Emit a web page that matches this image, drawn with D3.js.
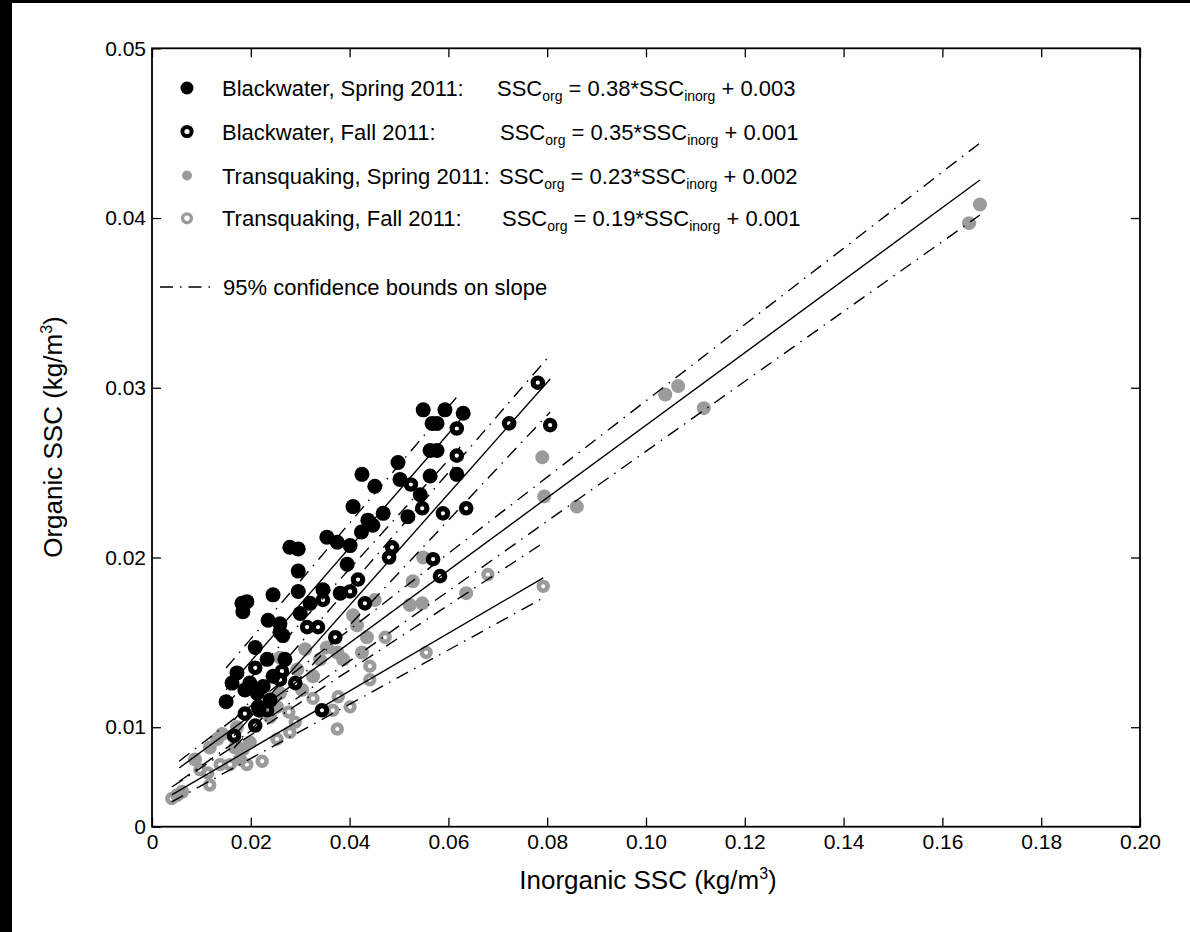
<!DOCTYPE html>
<html lang="en">
<head>
<meta charset="UTF-8">
<title>Organic vs inorganic SSC</title>
<script src="https://d3js.org/d3.v7.min.js"></script>
<style>
  html, body { margin: 0; padding: 0; background: #000; }
  svg { display: block; }
  text { font-family: "Liberation Sans", Arial, sans-serif; fill: #000; white-space: pre; }
  .fit { fill: none; stroke: #000; stroke-width: 1.4; }
  .bound { fill: none; stroke: #000; stroke-width: 1.4; stroke-dasharray: 13 7 1.5 7; }
</style>
</head>
<body>
<svg id="chart" width="1190" height="932"></svg>
<script>
// ---- data (kg/m3) ----
const seriesNames = ["Blackwater, Spring 2011:", "Blackwater, Fall 2011:", "Transquaking, Spring 2011:", "Transquaking, Fall 2011:"];
const eqSlopes = ["0.38", "0.35", "0.23", "0.19"];
const eqIntercepts = ["0.003", "0.001", "0.002", "0.001"];
const boundsLabel = "95% confidence bounds on slope";

const xTicks = [0, 0.02, 0.04, 0.06, 0.08, 0.10, 0.12, 0.14, 0.16, 0.18, 0.20];
const xTickLabels = ["0", "0.02", "0.04", "0.06", "0.08", "0.10", "0.12", "0.14", "0.16", "0.18", "0.20"];
const yBottom = 0.00414;
const yTicks = [yBottom, 0.01, 0.02, 0.03, 0.04, 0.05];
const yTickLabels = ["0", "0.01", "0.02", "0.03", "0.04", "0.05"];

// Blackwater, Spring 2011 (filled black)
const bwSpring = [
  [0.0549, 0.0287], [0.0593, 0.0287], [0.0630, 0.0285], [0.0567, 0.0279], [0.0577, 0.0279],
  [0.0563, 0.0263], [0.0577, 0.0263], [0.0498, 0.0256], [0.0425, 0.0249], [0.0502, 0.0246],
  [0.0563, 0.0248], [0.0617, 0.0249], [0.0451, 0.0242], [0.0543, 0.0237], [0.0407, 0.0230],
  [0.0518, 0.0224], [0.0468, 0.0226], [0.0437, 0.0222], [0.0447, 0.0219], [0.0424, 0.0215],
  [0.0354, 0.0212], [0.0375, 0.0209], [0.0401, 0.0207], [0.0279, 0.0206], [0.0296, 0.0205],
  [0.0296, 0.0192], [0.0395, 0.0196], [0.0245, 0.0178], [0.0296, 0.0180], [0.0346, 0.0181],
  [0.0381, 0.0179], [0.0320, 0.0173], [0.0182, 0.0173], [0.0192, 0.0174], [0.0184, 0.0168],
  [0.0235, 0.0163], [0.0259, 0.0161], [0.0300, 0.0167], [0.0259, 0.0156], [0.0265, 0.0154],
  [0.0209, 0.0147], [0.0233, 0.0140], [0.0269, 0.0140], [0.0172, 0.0132], [0.0162, 0.0126],
  [0.0198, 0.0126], [0.0213, 0.0120], [0.0225, 0.0124], [0.0245, 0.0130], [0.0188, 0.0122],
  [0.0239, 0.0116], [0.0150, 0.0115], [0.0215, 0.0112]
];
// Blackwater, Fall 2011 (black rings)
const bwFall = [
  [0.0781, 0.0303], [0.0723, 0.0279], [0.0806, 0.0278], [0.0617, 0.0276], [0.0617, 0.0260],
  [0.0524, 0.0243], [0.0547, 0.0229], [0.0589, 0.0226], [0.0636, 0.0229], [0.0583, 0.0189],
  [0.0569, 0.0199], [0.0486, 0.0206], [0.0480, 0.0200], [0.0417, 0.0187], [0.0401, 0.0180],
  [0.0431, 0.0173], [0.0346, 0.0175], [0.0314, 0.0159], [0.0336, 0.0159], [0.0371, 0.0153],
  [0.0209, 0.0135], [0.0263, 0.0133], [0.0259, 0.0128], [0.0290, 0.0126], [0.0188, 0.0108],
  [0.0209, 0.0101], [0.0217, 0.0110], [0.0233, 0.0110], [0.0166, 0.0095], [0.0344, 0.0110]
];
// Transquaking, Spring 2011 (filled grey)
const tsSpring = [
  [0.1676, 0.0408], [0.1654, 0.0397], [0.1065, 0.0301], [0.1039, 0.0296], [0.1117, 0.0288],
  [0.0790, 0.0259], [0.0794, 0.0236], [0.0860, 0.0230], [0.0636, 0.0179], [0.0549, 0.0200],
  [0.0528, 0.0186], [0.0522, 0.0172], [0.0547, 0.0173], [0.0451, 0.0175], [0.0407, 0.0166],
  [0.0415, 0.0160], [0.0435, 0.0153], [0.0425, 0.0144], [0.0354, 0.0147], [0.0375, 0.0144],
  [0.0387, 0.0140], [0.0340, 0.0140], [0.0326, 0.0130], [0.0294, 0.0134], [0.0259, 0.0141],
  [0.0310, 0.0146], [0.0304, 0.0122], [0.0259, 0.0120], [0.0253, 0.0112], [0.0239, 0.0106],
  [0.0223, 0.0109], [0.0172, 0.0100], [0.0142, 0.0096], [0.0132, 0.0093], [0.0117, 0.0088],
  [0.0168, 0.0088], [0.0184, 0.0087], [0.0198, 0.0091], [0.0178, 0.0081], [0.0087, 0.0081],
  [0.0061, 0.0062], [0.0051, 0.0060]
];
// Transquaking, Fall 2011 (grey rings)
const tsFall = [
  [0.0792, 0.0183], [0.0680, 0.0190], [0.0555, 0.0144], [0.0472, 0.0153], [0.0441, 0.0136],
  [0.0441, 0.0128], [0.0377, 0.0118], [0.0366, 0.0110], [0.0401, 0.0112], [0.0375, 0.0099],
  [0.0326, 0.0117], [0.0277, 0.0109], [0.0290, 0.0103], [0.0279, 0.0097], [0.0253, 0.0093],
  [0.0223, 0.0080], [0.0192, 0.0078], [0.0174, 0.0088], [0.0158, 0.0078], [0.0138, 0.0078],
  [0.0113, 0.0073], [0.0097, 0.0075], [0.0117, 0.0066], [0.0040, 0.0058]
];

// fitted lines and slope bounds, end points
const bwSpringFit   = [[0.0150, 0.01220], [0.0624, 0.02810]];
const bwSpringUpper = [[0.0150, 0.01349], [0.0624, 0.02969]];
const bwSpringLower = [[0.0150, 0.01131], [0.0624, 0.02651]];
const bwFallFit     = [[0.0166, 0.00949], [0.0806, 0.03052]];
const bwFallUpper   = [[0.0166, 0.01043], [0.0806, 0.03193]];
const bwFallLower   = [[0.0166, 0.00878], [0.0806, 0.02857]];
const tsSpringFit   = [[0.0055, 0.00760], [0.1676, 0.04224]];
const tsSpringUpper = [[0.0055, 0.00800], [0.1676, 0.04442]];
const tsSpringLower = [[0.0055, 0.00680], [0.1676, 0.04018]];
const tsFallFit     = [[0.0040, 0.00601], [0.0792, 0.01880]];
const tsFallUpper   = [[0.0040, 0.00648], [0.0792, 0.02086]];
const tsFallLower   = [[0.0040, 0.00560], [0.0792, 0.01762]];

// ---- drawing ----
const grey = "#9b9b9b";
const fontFamily = "Liberation Sans, Arial, sans-serif";
const svg = d3.select("#chart");
svg.append("rect").attr("x", 12).attr("y", 3).attr("width", 1178).attr("height", 929).attr("fill", "#fff");

const x = d3.scaleLinear().domain([0, 0.2]).range([152, 1140]);
const y = d3.scaleLinear().domain([yBottom, 0.05]).range([826.7, 48.3]);

function styleAxis(g) {
  g.attr("font-size", 21).attr("font-family", fontFamily);
  g.select(".domain").remove();
  g.selectAll(".tick line").attr("stroke", "#000").attr("stroke-width", 1.3);
  g.selectAll(".tick text").attr("fill", "#000");
}

svg.append("g")
  .attr("transform", "translate(0,826.7)")
  .call(d3.axisBottom(x).tickValues(xTicks).tickFormat((d, i) => xTickLabels[i]).tickSizeInner(-9).tickSizeOuter(0).tickPadding(7))
  .call(styleAxis);
svg.append("g")
  .attr("transform", "translate(0,48.3)")
  .call(d3.axisTop(x).tickValues(xTicks).tickFormat("").tickSizeInner(-9).tickSizeOuter(0))
  .call(styleAxis);
svg.append("g")
  .attr("transform", "translate(152,0)")
  .call(d3.axisLeft(y).tickValues(yTicks).tickFormat((d, i) => yTickLabels[i]).tickSizeInner(-9).tickSizeOuter(0).tickPadding(6))
  .call(styleAxis);
svg.append("g")
  .attr("transform", "translate(1140,0)")
  .call(d3.axisRight(y).tickValues(yTicks).tickFormat("").tickSizeInner(-9).tickSizeOuter(0))
  .call(styleAxis);

svg.append("rect")
  .attr("x", x(0)).attr("y", y(0.05))
  .attr("width", x(0.2) - x(0)).attr("height", y(yBottom) - y(0.05))
  .attr("fill", "none").attr("stroke", "#000").attr("stroke-width", 1.8);

// axis titles
const xt = svg.append("text").attr("x", 648).attr("y", 889).attr("text-anchor", "middle").attr("font-size", 26);
xt.append("tspan").text("Inorganic SSC (kg/m");
xt.append("tspan").attr("font-size", 16).attr("dy", -10).text("3");
xt.append("tspan").attr("dy", 10).text(")");

const yt = svg.append("text").attr("transform", "translate(62,437) rotate(-90)").attr("text-anchor", "middle").attr("font-size", 26);
yt.append("tspan").text("Organic SSC (kg/m");
yt.append("tspan").attr("font-size", 16).attr("dy", -10).text("3");
yt.append("tspan").attr("dy", 10).text(")");

// markers
function drawPoints(data, filled, color, r, sw) {
  svg.append("g").selectAll("circle").data(data).join("circle")
    .attr("cx", d => x(d[0])).attr("cy", d => y(d[1]))
    .attr("r", r)
    .attr("fill", filled ? color : "none")
    .attr("stroke", filled ? "none" : color)
    .attr("stroke-width", sw);
}
drawPoints(tsSpring, true, grey, 7, 0);
drawPoints(tsFall, false, grey, 4.4, 4.6);
drawPoints(bwSpring, true, "#000", 7.5, 0);
drawPoints(bwFall, false, "#000", 4.7, 5.2);

// lines
const line = d3.line().x(d => x(d[0])).y(d => y(d[1]));
[bwSpringFit, bwFallFit, tsSpringFit, tsFallFit].forEach(l =>
  svg.append("path").datum(l).attr("class", "fit").attr("d", line));
[bwSpringUpper, bwSpringLower, bwFallUpper, bwFallLower, tsSpringUpper, tsSpringLower, tsFallUpper, tsFallLower].forEach(l =>
  svg.append("path").datum(l).attr("class", "bound").attr("d", line));

// legend
const rowY = [88, 131.5, 175.5, 218.3];
const eqX = [497, 500, 499, 502];
const legendMarks = [
  { filled: true, color: "#000", r: 6.5, sw: 0 },
  { filled: false, color: "#000", r: 4.6, sw: 4 },
  { filled: true, color: grey, r: 5, sw: 0 },
  { filled: false, color: grey, r: 4.4, sw: 3.4 }
];
seriesNames.forEach((name, i) => {
  const m = legendMarks[i];
  svg.append("circle").attr("cx", 187).attr("cy", rowY[i]).attr("r", m.r)
    .attr("fill", m.filled ? m.color : "none")
    .attr("stroke", m.filled ? "none" : m.color).attr("stroke-width", m.sw);
  svg.append("text").attr("x", 222).attr("y", rowY[i] + 8).attr("font-size", 22).text(name);
  const eq = svg.append("text").attr("x", eqX[i]).attr("y", rowY[i] + 8).attr("font-size", 22);
  eq.append("tspan").text("SSC");
  eq.append("tspan").attr("font-size", 14).attr("dy", 5).text("org");
  eq.append("tspan").attr("dy", -5).text(" = " + eqSlopes[i] + "*SSC");
  eq.append("tspan").attr("font-size", 14).attr("dy", 5).text("inorg");
  eq.append("tspan").attr("dy", -5).text(" + " + eqIntercepts[i]);
});
svg.append("line").attr("class", "bound").attr("x1", 160).attr("x2", 212).attr("y1", 287).attr("y2", 287);
svg.append("text").attr("x", 223).attr("y", 295).attr("font-size", 22).text(boundsLabel);
</script>
</body>
</html>
